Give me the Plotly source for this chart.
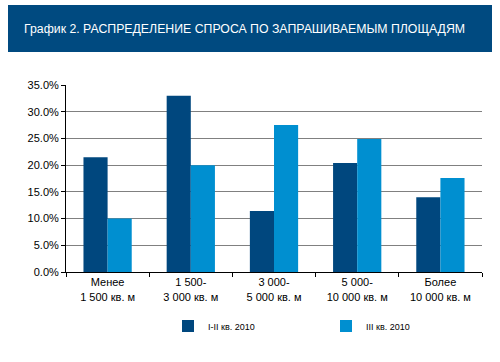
import plotly.graph_objects as go

categories = ["Менее<br>1 500 кв. м", "1 500-<br>3 000 кв. м", "3 000-<br>5 000 кв. м",
              "5 000-<br>10 000 кв. м", "Более<br>10 000 кв. м"]
series_names = ["I-II кв. 2010", "III кв. 2010"]
s1 = [21.5, 33.0, 11.4, 20.4, 14.0]
s2 = [10.0, 20.0, 27.5, 24.9, 17.6]
y_ticks = [0, 5, 10, 15, 20, 25, 30, 35]
title = "График 2. РАСПРЕДЕЛЕНИЕ СПРОСА ПО ЗАПРАШИВАЕМЫМ ПЛОЩАДЯМ"

fig = go.Figure()
fig.add_bar(x=categories, y=s1, name=series_names[0], marker_color="#00477e",
            marker_line_width=0, legend="legend")
fig.add_bar(x=categories, y=s2, name=series_names[1], marker_color="#008fd0",
            marker_line_width=0, legend="legend2")

leg_common = dict(orientation="h", yanchor="middle", y=(272-326)/187, xanchor="left",
                  font=dict(size=9), bgcolor="rgba(0,0,0,0)", itemwidth=30)

fig.update_layout(
    width=500, height=362,
    margin=dict(l=66, r=18, t=85, b=90, autoexpand=False),
    paper_bgcolor="white", plot_bgcolor="white",
    font=dict(family="Liberation Sans, Arial", size=11, color="black"),
    barmode="group", bargap=0.42, bargroupgap=0,
    showlegend=True,
    legend=dict(leg_common, x=(168-66)/416),
    legend2=dict(leg_common, x=(326-66)/416),
    shapes=[dict(type="rect", xref="paper", yref="paper",
                 x0=-58/416, x1=(492-66)/416, y0=(272-52)/187, y1=(272-5)/187,
                 fillcolor="#004a80", line_width=0, layer="below")],
    annotations=[dict(text=title, xref="paper", yref="paper",
                      x=(22-66)/416, y=(272-29)/187, xanchor="left", yanchor="middle",
                      showarrow=False, font=dict(color="white", size=12.3))],
)
fig.update_yaxes(range=[0, 35], tickvals=y_ticks, ticktext=[f"{v:.1f}%" for v in y_ticks],
                 showgrid=True, gridcolor="#808080", gridwidth=1,
                 showline=True, linecolor="black", linewidth=1,
                 ticks="outside", ticklen=4, tickcolor="black", zeroline=False)
fig.update_xaxes(showline=True, linecolor="black", linewidth=1,
                 ticks="outside", ticklen=4, tickcolor="black",
                 tickson="boundaries", showgrid=False)

fig.write_html("out.html", config={"displayModeBar": False},
               post_script="document.body.style.margin='0px';")
